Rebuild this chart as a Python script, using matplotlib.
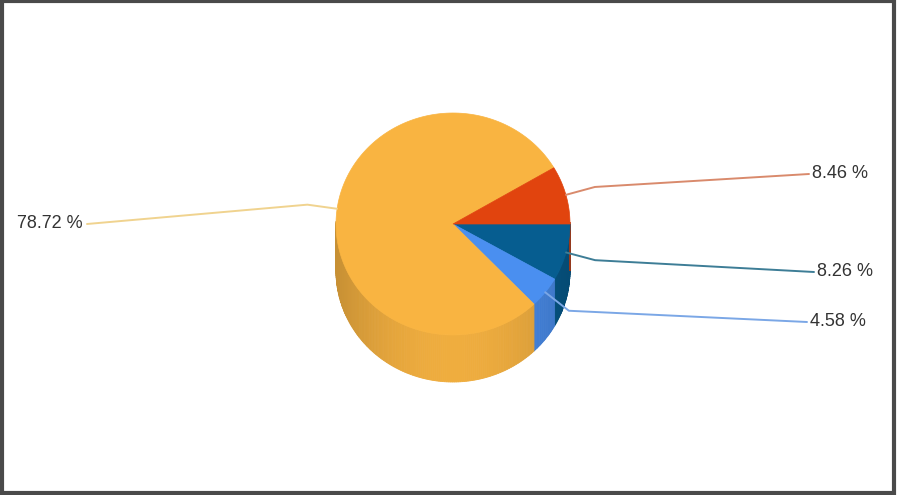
import numpy as np
import matplotlib
matplotlib.use("Agg")
import matplotlib.pyplot as plt
from matplotlib.patches import Polygon, Rectangle
from matplotlib.colors import to_rgb

# data (clockwise from 3 o'clock)
labels = ["8.26 %", "4.58 %", "78.72 %", "8.46 %"]
values = [8.26, 4.58, 78.72, 8.46]
top_colors = ["#065d90", "#4a8ff0", "#f9b441", "#e1440e"]
line_colors = ["#3d7d96", "#7ba7e6", "#f0d38f", "#d98a6c"]

# layout (pixels)
cx, cy, rx, ry, depth = 453, 224, 117, 111, 47
label_pos = [(817, 272), (810, 322), (83, 224), (812, 174)]
label_ha = ["left", "left", "right", "left"]

fig = plt.figure(figsize=(8.98, 4.95), dpi=100)
ax = fig.add_axes([0, 0, 1, 1])
ax.set_xlim(0, 898)
ax.set_ylim(495, 0)
ax.axis("off")


def pt(theta, dx=0, dy=0, off=0.0):
    return (cx + (rx + dx) * np.cos(theta), cy - (ry + dy) * np.sin(theta) + off)


fracs = np.array(values) / sum(values)
ends = -np.cumsum(fracs) * 2 * np.pi
starts = np.concatenate([[0], ends[:-1]])

# side walls (only front half visible)
for s, e, col in zip(starts, ends, top_colors):
    base = np.array(to_rgb(col))
    th = np.linspace(s, e, max(int(abs(e - s) * 180 / np.pi), 2) + 1)
    for a, b in zip(th[:-1], th[1:]):
        m = (a + b) / 2
        if np.sin(m) > 0.02:
            continue
        k = 0.80 + 0.16 * (-np.sin(m)) ** 2
        c = np.clip(base * k, 0, 1)
        poly = [pt(a), pt(b), pt(b, off=depth), pt(a, off=depth)]
        ax.add_patch(Polygon(poly, closed=True, facecolor=c, edgecolor=c, lw=0.6))

# tops
for s, e, col in zip(starts, ends, top_colors):
    th = np.linspace(s, e, 200)
    poly = [(cx, cy)] + [pt(t) for t in th]
    ax.add_patch(Polygon(poly, closed=True, facecolor=col, edgecolor=col, lw=0.5))

# connectors + labels
for s, e, lab, lc, (lx, ly), ha in zip(starts, ends, labels, line_colors, label_pos, label_ha):
    m = (s + e) / 2
    p0 = pt(m)
    p1 = pt(m, 30, 30)
    end_x = lx + 4 if ha == "right" else lx - 3
    ax.plot([p0[0], p1[0], end_x], [p0[1], p1[1], ly], color=lc, lw=1.4,
            solid_capstyle="round", zorder=1)
    ax.text(lx, ly, lab, ha=ha, va="center", fontsize=13, color="#333333",
            family=["Liberation Sans", "DejaVu Sans"])

fig.add_artist(Rectangle((0.002, 0.004), 0.994, 0.993, transform=fig.transFigure,
                         fill=False, edgecolor="#4a4a4a", lw=3))

fig.savefig("out.png", dpi=100)
